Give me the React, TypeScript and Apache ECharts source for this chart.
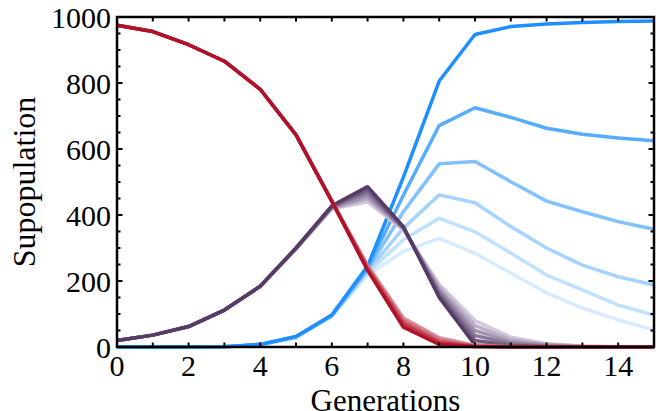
import React, { useEffect, useRef } from "react";
import * as echarts from "echarts";

const GENERATIONS = [0, 1, 2, 3, 4, 5, 6, 7, 8, 9, 10, 11, 12, 13, 14, 15];

// Red (declining) subpopulation: main line + lighter fan copies
const RED_MAIN = [975, 956, 916, 866, 781, 643, 442, 232, 60, 8, 1, 0, 0, 0, 0, 0];
const RED_FAN_1 = [975, 956, 916, 866, 781, 643, 442, 236, 70, 14, 2, 0, 0, 0, 0, 0];
const RED_FAN_2 = [975, 956, 916, 866, 781, 643, 442, 242, 79, 20, 3, 0, 0, 0, 0, 0];
const RED_FAN_3 = [975, 956, 916, 866, 781, 643, 442, 248, 88, 28, 5, 1, 0, 0, 0, 0];

// Purple (intermediate) subpopulation: main line + lighter fan copies
const PURPLE_MAIN = [20, 36, 62, 112, 184, 300, 428, 486, 365, 150, 6, 1, 0, 0, 0, 0];
const PURPLE_FAN_1 = [20, 36, 62, 112, 184, 300, 426, 476, 363, 158, 20, 5, 1, 0, 0, 0];
const PURPLE_FAN_2 = [20, 36, 62, 112, 184, 299, 424, 466, 361, 166, 35, 10, 3, 1, 0, 0];
const PURPLE_FAN_3 = [20, 36, 62, 112, 184, 298, 422, 456, 359, 174, 50, 16, 5, 1, 0, 0];
const PURPLE_FAN_4 = [20, 36, 62, 112, 184, 297, 420, 448, 357, 182, 65, 22, 8, 2, 0, 0];
const PURPLE_FAN_5 = [20, 36, 62, 112, 184, 296, 418, 440, 355, 190, 80, 30, 10, 3, 1, 0];

// Blue (rising) subpopulations
const BLUE_1 = [0, 0, 0, 1, 8, 32, 97, 245, 515, 806, 947, 971, 979, 983, 986, 988];
const BLUE_2 = [0, 0, 0, 1, 8, 31, 96, 240, 460, 671, 725, 696, 663, 645, 633, 625];
const BLUE_3 = [0, 0, 0, 1, 7, 30, 95, 235, 410, 555, 562, 501, 442, 410, 380, 357];
const BLUE_4 = [0, 0, 0, 1, 7, 30, 94, 230, 360, 461, 437, 365, 300, 248, 213, 188];
const BLUE_5 = [0, 0, 0, 1, 7, 29, 93, 225, 325, 390, 349, 285, 218, 173, 127, 97];
const BLUE_6 = [0, 0, 0, 1, 6, 28, 92, 218, 290, 329, 284, 224, 164, 118, 82, 52];

const X_TICK_LABELS = ["0", "2", "4", "6", "8", "10", "12", "14"];
const Y_TICK_LABELS = ["0", "200", "400", "600", "800", "1000"];
const Y_TICK_VALUES = [
  0, 50, 100, 150, 200, 250, 300, 350, 400, 450, 500, 550, 600, 650, 700, 750, 800, 850, 900, 950, 1000,
];

const X_MIN = 0;
const X_MAX = 15;
const Y_MIN = 0;
const Y_MAX = 1000;

const FONT = "'Liberation Serif', 'Times New Roman', serif";

function pairs(values: number[]) {
  return GENERATIONS.map((g, i) => [g, values[i]]);
}

function lineSeries(name: string, values: number[], color: string) {
  return {
    name,
    type: "line",
    data: pairs(values),
    showSymbol: false,
    lineStyle: { color, width: 3.5 },
  };
}

export default function App() {
  const ref = useRef<HTMLDivElement>(null);

  useEffect(() => {
    if (!ref.current) return;
    const chart = echarts.init(ref.current, undefined, { renderer: "svg" });

    const tickStyle = { stroke: "#000", lineWidth: 2 };

    const xTicks = {
      type: "custom",
      silent: true,
      clip: false,
      z: 10,
      encode: { x: 0, y: 1 },
      data: GENERATIONS.map((g) => [g, Y_MIN]),
      renderItem: (params: any, api: any) => {
        const v = api.value(0);
        const b = api.coord([v, Y_MIN]);
        const t = api.coord([v, Y_MAX]);
        return {
          type: "group",
          children: [
            { type: "line", shape: { x1: b[0], y1: b[1], x2: b[0], y2: b[1] - 4.5 }, style: tickStyle },
            { type: "line", shape: { x1: t[0], y1: t[1], x2: t[0], y2: t[1] + 4.5 }, style: tickStyle },
          ],
        };
      },
    };

    const yTicks = {
      type: "custom",
      silent: true,
      clip: false,
      z: 10,
      encode: { x: 0, y: 1 },
      data: Y_TICK_VALUES.map((v) => [X_MIN, v]),
      renderItem: (params: any, api: any) => {
        const v = api.value(1);
        const len = v % 200 === 0 ? 5.5 : 3.5;
        const l = api.coord([X_MIN, v]);
        const r = api.coord([X_MAX, v]);
        return {
          type: "group",
          children: [
            { type: "line", shape: { x1: l[0], y1: l[1], x2: l[0] + len, y2: l[1] }, style: tickStyle },
            { type: "line", shape: { x1: r[0], y1: r[1], x2: r[0] - len, y2: r[1] }, style: tickStyle },
          ],
        };
      },
    };

    const frame = {
      name: "frame",
      type: "line",
      silent: true,
      clip: false,
      z: 11,
      showSymbol: false,
      data: [
        [X_MIN, Y_MIN],
        [X_MAX, Y_MIN],
        [X_MAX, Y_MAX],
        [X_MIN, Y_MAX],
        [X_MIN, Y_MIN],
      ],
      lineStyle: { color: "#000", width: 2.5, join: "miter", cap: "square" },
    };

    chart.setOption({
      animation: false,
      grid: { left: 117, right: 2, top: 17, bottom: 64, outerBoundsMode: "none" },
      xAxis: {
        type: "value",
        min: X_MIN,
        max: X_MAX,
        interval: 1,
        name: "Generations",
        nameLocation: "middle",
        nameGap: 28,
        nameTextStyle: { fontFamily: FONT, fontSize: 31, color: "black" },
        axisLine: { show: false, onZero: false },
        axisTick: { show: false },
        splitLine: { show: false },
        axisLabel: {
          fontFamily: FONT,
          fontSize: 30,
          color: "black",
          margin: 3,
          formatter: (v: number) => (X_TICK_LABELS.includes(String(v)) ? String(v) : ""),
        },
      },
      yAxis: {
        type: "value",
        min: Y_MIN,
        max: Y_MAX,
        interval: 200,
        name: "Supopulation",
        nameLocation: "middle",
        nameGap: 72,
        nameRotate: 90,
        nameTextStyle: { fontFamily: FONT, fontSize: 32, color: "black" },
        axisLine: { show: false, onZero: false },
        axisTick: { show: false },
        splitLine: { show: false },
        axisLabel: {
          fontFamily: FONT,
          fontSize: 30,
          color: "black",
          margin: 6,
          formatter: (v: number) => (Y_TICK_LABELS.includes(String(v)) ? String(v) : ""),
        },
      },
      series: [
        lineSeries("b6", BLUE_6, "#D6EBFF"),
        lineSeries("b5", BLUE_5, "#C0E0FF"),
        lineSeries("b4", BLUE_4, "#A5D3FF"),
        lineSeries("b3", BLUE_3, "#82C1FF"),
        lineSeries("b2", BLUE_2, "#56ACFF"),
        lineSeries("b1", BLUE_1, "#1E8FFF"),
        lineSeries("p5", PURPLE_FAN_5, "#D3C9DA"),
        lineSeries("p4", PURPLE_FAN_4, "#BBAEC5"),
        lineSeries("p3", PURPLE_FAN_3, "#A393AF"),
        lineSeries("p2", PURPLE_FAN_2, "#8A7898"),
        lineSeries("p1", PURPLE_FAN_1, "#715D81"),
        lineSeries("pm", PURPLE_MAIN, "#553B66"),
        lineSeries("r3", RED_FAN_3, "#D98C97"),
        lineSeries("r2", RED_FAN_2, "#CC6472"),
        lineSeries("r1", RED_FAN_1, "#C03B4E"),
        lineSeries("rm", RED_MAIN, "#B0122A"),
        xTicks,
        yTicks,
        frame,
      ],
    });

    return () => chart.dispose();
  }, []);

  return (
    <div
      ref={ref}
      style={{ width: 656, height: 411, position: "absolute", left: 0, top: 0, background: "#fff" }}
    />
  );
}
